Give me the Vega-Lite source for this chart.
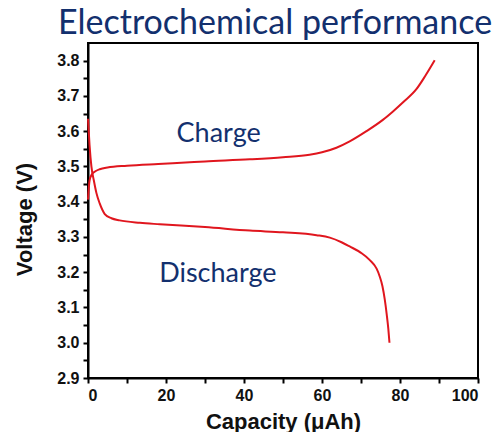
{
  "$schema": "https://vega.github.io/schema/vega-lite/v6.json",
  "width": 390,
  "height": 335,
  "autosize": "none",
  "padding": {"left": 88, "top": 43, "right": 26, "bottom": 54},
  "title": {
    "text": "Electrochemical performance",
    "anchor": "start",
    "frame": "group",
    "dx": -30,
    "dy": 34,
    "offset": 2,
    "baseline": "bottom",
    "font": "Lato",
    "fontSize": 34,
    "fontWeight": "normal",
    "color": "#13306e"
  },
  "config": {
    "view": {"stroke": "#000", "strokeWidth": 2},
    "axis": {
      "grid": false,
      "domainColor": "#000",
      "domainWidth": 2,
      "tickColor": "#000",
      "tickWidth": 2,
      "tickSize": 5,
      "tickCount": 60,
      "labelOverlap": false,
      "labelFont": "Liberation Sans",
      "labelFontWeight": "bold",
      "labelFontSize": 16,
      "labelColor": "#111",
      "titleFont": "Liberation Sans",
      "titleFontWeight": "bold",
      "titleFontSize": 22,
      "titleColor": "#111"
    }
  },
  "layer": [
    {
      "data": {
        "values": [
          {"series": "Charge", "i": 0, "x": 0, "y": 3.406},
          {"series": "Charge", "i": 1, "x": 0.4, "y": 3.46},
          {"series": "Charge", "i": 2, "x": 1, "y": 3.478},
          {"series": "Charge", "i": 3, "x": 2, "y": 3.487},
          {"series": "Charge", "i": 4, "x": 3, "y": 3.492},
          {"series": "Charge", "i": 5, "x": 5, "y": 3.497},
          {"series": "Charge", "i": 6, "x": 10, "y": 3.502},
          {"series": "Charge", "i": 7, "x": 18, "y": 3.507},
          {"series": "Charge", "i": 8, "x": 25, "y": 3.511},
          {"series": "Charge", "i": 9, "x": 30, "y": 3.514},
          {"series": "Charge", "i": 10, "x": 41.5, "y": 3.52},
          {"series": "Charge", "i": 11, "x": 50, "y": 3.526},
          {"series": "Charge", "i": 12, "x": 56.8, "y": 3.533},
          {"series": "Charge", "i": 13, "x": 60, "y": 3.54},
          {"series": "Charge", "i": 14, "x": 63.7, "y": 3.553},
          {"series": "Charge", "i": 15, "x": 67.1, "y": 3.571},
          {"series": "Charge", "i": 16, "x": 71.4, "y": 3.6},
          {"series": "Charge", "i": 17, "x": 75.6, "y": 3.632},
          {"series": "Charge", "i": 18, "x": 78.2, "y": 3.656},
          {"series": "Charge", "i": 19, "x": 81, "y": 3.684},
          {"series": "Charge", "i": 20, "x": 84.2, "y": 3.719},
          {"series": "Charge", "i": 21, "x": 86.5, "y": 3.757},
          {"series": "Charge", "i": 22, "x": 88.9, "y": 3.801},
          {"series": "Discharge", "i": 0, "x": 0, "y": 3.635},
          {"series": "Discharge", "i": 1, "x": 0.4, "y": 3.56},
          {"series": "Discharge", "i": 2, "x": 0.87, "y": 3.5},
          {"series": "Discharge", "i": 3, "x": 1.5, "y": 3.46},
          {"series": "Discharge", "i": 4, "x": 2.15, "y": 3.425},
          {"series": "Discharge", "i": 5, "x": 3, "y": 3.395},
          {"series": "Discharge", "i": 6, "x": 4.3, "y": 3.365},
          {"series": "Discharge", "i": 7, "x": 6, "y": 3.353},
          {"series": "Discharge", "i": 8, "x": 8.1, "y": 3.347},
          {"series": "Discharge", "i": 9, "x": 13.3, "y": 3.34},
          {"series": "Discharge", "i": 10, "x": 18.4, "y": 3.336},
          {"series": "Discharge", "i": 11, "x": 30, "y": 3.328},
          {"series": "Discharge", "i": 12, "x": 41.5, "y": 3.318},
          {"series": "Discharge", "i": 13, "x": 50, "y": 3.313},
          {"series": "Discharge", "i": 14, "x": 58.6, "y": 3.305},
          {"series": "Discharge", "i": 15, "x": 62, "y": 3.298},
          {"series": "Discharge", "i": 16, "x": 65, "y": 3.285},
          {"series": "Discharge", "i": 17, "x": 67.1, "y": 3.273},
          {"series": "Discharge", "i": 18, "x": 70, "y": 3.255},
          {"series": "Discharge", "i": 19, "x": 72.2, "y": 3.235},
          {"series": "Discharge", "i": 20, "x": 74, "y": 3.21},
          {"series": "Discharge", "i": 21, "x": 74.8, "y": 3.188},
          {"series": "Discharge", "i": 22, "x": 75.5, "y": 3.16},
          {"series": "Discharge", "i": 23, "x": 76.1, "y": 3.122},
          {"series": "Discharge", "i": 24, "x": 76.6, "y": 3.08},
          {"series": "Discharge", "i": 25, "x": 77, "y": 3.04},
          {"series": "Discharge", "i": 26, "x": 77.3, "y": 3.0}
        ]
      },
      "mark": {"type": "line", "color": "#e0161e", "strokeWidth": 2, "interpolate": "monotone"},
      "encoding": {
        "x": {
          "field": "x",
          "type": "quantitative",
          "scale": {"domain": [0, 100], "nice": false},
          "axis": {
            "title": "Capacity (μAh)",
            "values": [0, 10, 20, 30, 40, 50, 60, 70, 80, 90, 100],
            "labelExpr": "datum.value % 20 === 0 ? datum.label : ''",
            "labelPadding": 4,
            "titleBaseline": "alphabetic",
            "titleY": 50
          }
        },
        "y": {
          "field": "y",
          "type": "quantitative",
          "scale": {"domain": [2.9, 3.85], "nice": false, "zero": false},
          "axis": {
            "title": "Voltage (V)",
            "values": [2.9, 2.95, 3.0, 3.05, 3.1, 3.15, 3.2, 3.25, 3.3, 3.35, 3.4, 3.45, 3.5, 3.55, 3.6, 3.65, 3.7, 3.75, 3.8],
            "labelExpr": "round(datum.value * 100) % 10 === 0 ? format(datum.value, '.1f') : ''",
            "labelPadding": 4,
            "titleAngle": -90,
            "titleBaseline": "alphabetic",
            "titleAlign": "center",
            "titleX": -57,
            "titleY": 176
          }
        },
        "detail": {"field": "series"},
        "order": {"field": "i", "type": "quantitative"}
      }
    },
    {
      "data": {
        "values": [
          {"x": 33.5, "y": 3.568, "label": "Charge"},
          {"x": 33.3, "y": 3.173, "label": "Discharge"}
        ]
      },
      "mark": {"type": "text", "font": "Lato", "fontSize": 27, "color": "#13306e", "baseline": "alphabetic", "align": "center"},
      "encoding": {
        "x": {"field": "x", "type": "quantitative"},
        "y": {"field": "y", "type": "quantitative"},
        "text": {"field": "label"}
      }
    }
  ]
}
